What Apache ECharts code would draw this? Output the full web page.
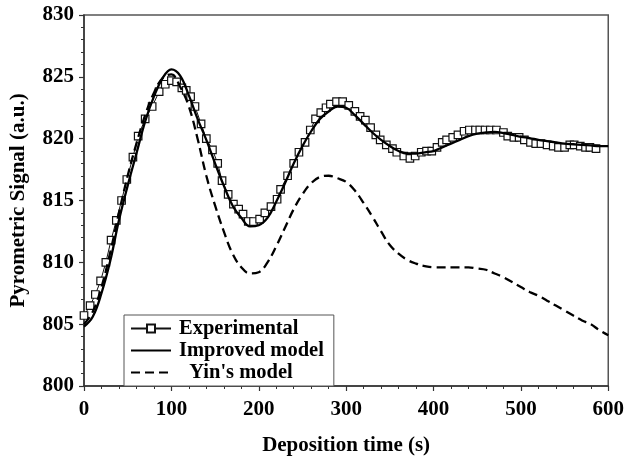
<!DOCTYPE html>
<html>
<head>
<meta charset="utf-8">
<script src="https://cdn.jsdelivr.net/npm/echarts@6/dist/echarts.min.js"></script>
<style>
  html, body { margin: 0; padding: 0; background: #fff; }
  #chart { width: 627px; height: 461px; }
</style>
</head>
<body>
<div id="chart"></div>
<script>
// experimental points, [time (s), signal]
const expTime = [0, 7, 13, 19, 25, 31, 37, 43, 49, 56, 62, 70, 78, 86, 93, 100, 106, 112, 117, 122,
  127, 134, 140, 147, 153, 158, 165, 171, 177, 182, 188, 194, 201, 207, 214, 221, 225, 233, 240, 246,
  253, 259, 265, 271, 277, 282, 289, 296, 303, 310, 316, 322, 328, 334, 339, 346, 353, 358, 366, 373,
  379, 386, 392, 398, 404, 410, 415, 422, 428, 435, 441, 448, 453, 459, 465, 472, 480, 485, 492, 498,
  504, 511, 517, 523, 530, 537, 543, 550, 556, 561, 568, 574, 579, 586]
const expSignal = [805.7, 806.5, 807.4, 808.5, 810.0, 811.8, 813.4, 815.0, 816.7, 818.5, 820.2, 821.6, 822.6, 823.8, 824.4, 824.7, 824.6, 824.1, 823.9, 823.4,
  822.6, 821.2, 820.0, 819.1, 818.0, 816.6, 815.5, 814.7, 814.3, 813.9, 813.3, 813.3, 813.5, 814.0, 814.5, 815.1, 815.9, 817.0, 818.0, 818.9,
  819.7, 820.7, 821.6, 822.1, 822.5, 822.8, 823.0, 823.0, 822.7, 822.2, 821.8, 821.5, 820.9, 820.3, 819.9, 819.5, 819.2, 818.9, 818.6, 818.4,
  818.6, 818.9, 819.0, 819.0, 819.3, 819.7, 819.9, 820.1, 820.3, 820.6, 820.7, 820.7, 820.7, 820.7, 820.7, 820.7, 820.5, 820.2, 820.1, 820.1,
  819.9, 819.7, 819.6, 819.6, 819.5, 819.4, 819.3, 819.3, 819.5, 819.5, 819.4, 819.3, 819.3, 819.2]

// model curves, sampled every 10 s
const modelTime = [0, 10, 20, 30, 40, 50, 60, 70, 80, 90, 100, 110, 120, 130, 140, 150, 160, 170, 180, 190,
  200, 210, 220, 230, 240, 250, 260, 270, 280, 290, 300, 310, 320, 330, 340, 350, 360, 370, 380, 390,
  400, 410, 420, 430, 440, 450, 460, 470, 480, 490, 500, 510, 520, 530, 540, 550, 560, 570, 580, 590, 600]
const improvedModel = [804.8, 805.6, 807.5, 810.1, 813.4, 816.2, 818.8, 821.4, 823.4, 824.9, 825.6, 825.1, 823.5, 821.6, 819.9, 818.0, 816.2, 814.6, 813.6, 812.9,
  813.0, 813.6, 814.9, 816.4, 818.0, 819.4, 820.6, 821.6, 822.2, 822.6, 822.5, 821.9, 821.2, 820.5, 819.9, 819.4, 819.0, 818.8, 818.8, 818.9,
  819.0, 819.3, 819.6, 819.9, 820.2, 820.4, 820.5, 820.55, 820.45, 820.3, 820.15, 820.05, 819.9, 819.8, 819.7, 819.6, 819.55, 819.5, 819.45, 819.4, 819.4]
const yinModel = [805.0, 806.0, 808.0, 810.8, 814.0, 817.0, 819.6, 821.9, 823.7, 824.9, 825.2, 824.2, 822.6, 820.0, 817.0, 814.6, 812.5, 810.7, 809.6, 809.1,
  809.2, 810.0, 811.3, 812.8, 814.3, 815.5, 816.4, 816.9, 817.0, 816.8, 816.5, 815.8, 814.8, 813.7, 812.5, 811.4, 810.7, 810.2, 809.9, 809.7,
  809.6, 809.6, 809.6, 809.6, 809.6, 809.5, 809.4, 809.1, 808.8, 808.4, 808.0, 807.6, 807.3, 806.9, 806.5, 806.1, 805.7, 805.3, 805.0, 804.5, 804.1]

const xTicks = [0, 100, 200, 300, 400, 500, 600]
const yTicks = [800, 805, 810, 815, 820, 825, 830]

const font = 'Liberation Serif'
const zip = (xs, ys) => xs.map((x, i) => [x, ys[i]])

const chart = echarts.init(document.getElementById('chart'))
chart.setOption({
  animation: false,
  backgroundColor: '#fff',
  grid: {
    left: 82,
    right: 18,
    top: 15,
    bottom: 66,
    show: true,
    borderColor: '#555',
    borderWidth: 1.5
  },
  legend: {
    orient: 'vertical',
    left: 124,
    top: 315,
    itemWidth: 40,
    itemHeight: 10,
    itemGap: 1,
    padding: [3, 10, 3, 6],
    borderColor: '#555',
    borderWidth: 1,
    backgroundColor: '#fff',
    data: [
      { name: 'Experimental' },
      // model lines: hide the symbol in the legend icon, keep the line
      { name: 'Improved model', itemStyle: { opacity: 0 } },
      { name: "Yin's model", itemStyle: { opacity: 0 } }
    ],
    formatter: name => (name === "Yin's model" ? '  ' + name : name),
    textStyle: { fontFamily: font, fontWeight: 'bold', fontSize: 20.5, color: '#000', padding: [0, 0, 0, 3] }
  },
  xAxis: {
    type: 'value',
    min: xTicks[0],
    max: xTicks[xTicks.length - 1],
    interval: xTicks[1] - xTicks[0],
    name: 'Deposition time (s)',
    nameLocation: 'middle',
    nameGap: 49,
    nameTextStyle: { fontFamily: font, fontWeight: 'bold', fontSize: 21, color: '#000' },
    axisLine: { lineStyle: { color: '#333', width: 1.5 } },
    axisTick: { length: 5, lineStyle: { color: '#333', width: 1.2 } },
    minorTick: { show: true, splitNumber: 5, length: 3, lineStyle: { color: '#333', width: 1 } },
    axisLabel: { margin: 13, fontFamily: font, fontWeight: 'bold', fontSize: 21, color: '#000' },
    splitLine: { show: false }
  },
  yAxis: {
    type: 'value',
    min: yTicks[0],
    max: yTicks[yTicks.length - 1],
    interval: yTicks[1] - yTicks[0],
    name: 'Pyrometric Signal (a.u.)',
    nameLocation: 'middle',
    nameGap: 55,
    nameTextStyle: { fontFamily: font, fontWeight: 'bold', fontSize: 21, color: '#000' },
    axisLine: { lineStyle: { color: '#333', width: 1.5 } },
    axisTick: { length: 5, lineStyle: { color: '#333', width: 1.2 } },
    minorTick: { show: true, splitNumber: 5, length: 3, lineStyle: { color: '#333', width: 1 } },
    axisLabel: { margin: 10, fontFamily: font, fontWeight: 'bold', fontSize: 21, color: '#000' },
    splitLine: { show: false }
  },
  series: [
    {
      name: 'Experimental',
      type: 'line',
      data: zip(expTime, expSignal),
      symbol: 'rect',
      symbolSize: 7.5,
      itemStyle: { color: '#fff', borderColor: '#111', borderWidth: 1.2 },
      lineStyle: { color: '#111', width: 1 },
      z: 3
    },
    {
      name: 'Improved model',
      type: 'line',
      data: zip(modelTime, improvedModel),
      smooth: 0.4,
      showSymbol: false,
      itemStyle: { color: '#000' },
      lineStyle: { color: '#000', width: 2.3 },
      z: 4
    },
    {
      name: "Yin's model",
      type: 'line',
      data: zip(modelTime, yinModel),
      smooth: 0.4,
      showSymbol: false,
      itemStyle: { color: '#000' },
      lineStyle: { color: '#000', width: 2.3, type: [9, 5] },
      z: 4
    }
  ]
})
</script>
</body>
</html>
